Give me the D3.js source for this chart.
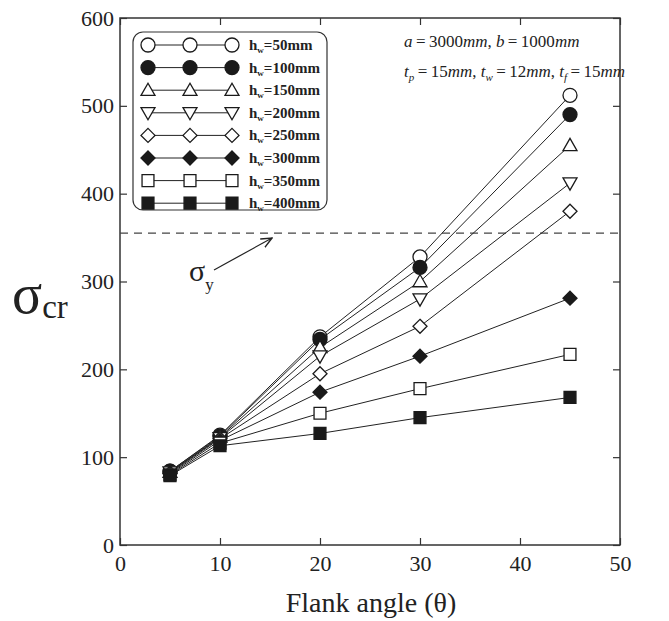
<!doctype html>
<html>
<head>
<meta charset="utf-8">
<title>Flank angle vs critical stress</title>
<script src="https://d3js.org/d3.v7.min.js"></script>
<style type="text/css">
	body { margin: 0; background: #fff; }
	text { font-family: "Liberation Serif", "DejaVu Serif", serif; fill: #222; }
	.tick text { font-size: 22px; font-family: "Liberation Serif", serif; }
	.legText { font-size: 15px; font-weight: bold; }
	.note { font-size: 17px; }
</style>
</head>
<body>
<script>
	var w = 669;
	var h = 621;

	// data
	var angles = [5, 10, 20, 30, 45];
	var names = ["50", "100", "150", "200", "250", "300", "350", "400"];
	var shapes = ["circle", "circle", "triUp", "triDown", "diamond", "diamond", "square", "square"];
	var filled = [false, true, false, false, false, true, false, true];
	var hw50  = [84, 125, 237, 328, 512];
	var hw100 = [84, 124, 234, 316, 490];
	var hw150 = [83, 123, 225, 300, 455];
	var hw200 = [83, 122, 215, 280, 412];
	var hw250 = [82, 121, 195, 249, 380];
	var hw300 = [81, 119, 174, 215, 281];
	var hw350 = [80, 116, 150, 178, 217];
	var hw400 = [79, 113, 127, 145, 168];
	var series = [hw50, hw100, hw150, hw200, hw250, hw300, hw350, hw400];
	var sigmaY = 355;
	var xTicks = [0, 10, 20, 30, 40, 50];
	var yTicks = [0, 100, 200, 300, 400, 500, 600];

	var svg = d3.select("body").append("svg")
				.attr("width", w)
				.attr("height", h);

	var xScale = d3.scaleLinear().domain([0, 50]).range([120, 620]);
	var yScale = d3.scaleLinear().domain([0, 600]).range([545, 18]);

	function markerPath(shape, s) {
		var p = d3.path();
		if (shape == "circle") {
			p.moveTo(s, 0);
			p.arc(0, 0, s, 0, 2 * Math.PI);
		} else if (shape == "triUp") {
			p.moveTo(0, -s); p.lineTo(s, s * 0.75); p.lineTo(-s, s * 0.75); p.closePath();
		} else if (shape == "triDown") {
			p.moveTo(0, s); p.lineTo(s, -s * 0.75); p.lineTo(-s, -s * 0.75); p.closePath();
		} else if (shape == "diamond") {
			p.moveTo(0, -s); p.lineTo(s, 0); p.lineTo(0, s); p.lineTo(-s, 0); p.closePath();
		} else {
			p.rect(-s * 0.85, -s * 0.85, s * 1.7, s * 1.7);
		}
		return p.toString();
	}

	// frame
	svg.append("rect")
		.attr("x", 120).attr("y", 18)
		.attr("width", 500).attr("height", 527)
		.attr("fill", "none").attr("stroke", "#333").attr("stroke-width", 1.5);

	var xAxis = d3.axisBottom(xScale).tickValues(xTicks).tickSizeInner(-7).tickSizeOuter(0).tickPadding(10);
	var yAxis = d3.axisLeft(yScale).tickValues(yTicks).tickSizeInner(-7).tickSizeOuter(0).tickPadding(6);

	var gx = svg.append("g").attr("transform", "translate(0,545)").call(xAxis);
	var gy = svg.append("g").attr("transform", "translate(120,0)").call(yAxis);
	svg.append("g").attr("transform", "translate(0,18)")
		.call(d3.axisTop(xScale).tickValues(xTicks).tickSizeInner(-7).tickSizeOuter(0).tickFormat(""));
	svg.append("g").attr("transform", "translate(620,0)")
		.call(d3.axisRight(yScale).tickValues(yTicks).tickSizeInner(-7).tickSizeOuter(0).tickFormat(""));
	svg.selectAll(".domain").remove();
	svg.selectAll(".tick line").attr("stroke", "#333").attr("stroke-width", 1.2);
	svg.selectAll("g").attr("font-family", null);
	svg.selectAll(".tick text")
		.attr("fill", "#222")
		.attr("font-family", "Liberation Serif");

	// yield line
	svg.append("line")
		.attr("x1", 120).attr("x2", 620)
		.attr("y1", yScale(sigmaY)).attr("y2", yScale(sigmaY))
		.attr("stroke", "#444").attr("stroke-width", 1.2)
		.attr("stroke-dasharray", "8,6");

	var line = d3.line()
		.x(function(d, i) { return xScale(angles[i]); })
		.y(function(d) { return yScale(d); });

	svg.append("g").selectAll("path")
		.data(series)
		.enter()
		.append("path")
		.attr("d", line)
		.attr("fill", "none")
		.attr("stroke", "#222")
		.attr("stroke-width", 1);

	series.forEach(function(s, k) {
		svg.append("g").selectAll("path")
			.data(s)
			.enter()
			.append("path")
			.attr("transform", function(d, i) { return "translate(" + xScale(angles[i]) + "," + yScale(d) + ")"; })
			.attr("d", markerPath(shapes[k], 7))
			.attr("fill", filled[k] ? "#1a1a1a" : "#fff")
			.attr("stroke", "#1a1a1a")
			.attr("stroke-width", 1.3);
	});

	// legend
	var leg = svg.append("g");
	leg.append("rect")
		.attr("x", 133).attr("y", 32)
		.attr("width", 194).attr("height", 178)
		.attr("rx", 10)
		.attr("fill", "#fff").attr("stroke", "#333").attr("stroke-width", 1.2);

	names.forEach(function(n, k) {
		var yy = 45 + k * 22.6;
		leg.append("line")
			.attr("x1", 148).attr("x2", 232)
			.attr("y1", yy).attr("y2", yy)
			.attr("stroke", "#222");
		[148, 190, 232].forEach(function(xx) {
			leg.append("path")
				.attr("transform", "translate(" + xx + "," + yy + ")")
				.attr("d", markerPath(shapes[k], 7))
				.attr("fill", filled[k] ? "#1a1a1a" : "#fff")
				.attr("stroke", "#1a1a1a")
				.attr("stroke-width", 1.3);
		});
		var t = leg.append("text").attr("class", "legText")
			.attr("x", 249).attr("y", yy + 5);
		t.append("tspan").text("h");
		t.append("tspan").attr("font-size", "9px").attr("dy", 3).text("w");
		t.append("tspan").attr("dy", -3).text("=" + n + "mm");
	});

	// parameters note
	var eq = "\u2009=\u2009";
	var n1 = svg.append("text").attr("class", "note").attr("x", 404).attr("y", 47);
	n1.append("tspan").attr("font-style", "italic").text("a");
	n1.append("tspan").text(eq + "3000");
	n1.append("tspan").attr("font-style", "italic").text("mm");
	n1.append("tspan").text(", ");
	n1.append("tspan").attr("font-style", "italic").text("b");
	n1.append("tspan").text(eq + "1000");
	n1.append("tspan").attr("font-style", "italic").text("mm");

	var n2 = svg.append("text").attr("class", "note").attr("x", 404).attr("y", 77);
	[["p", "15"], ["w", "12"], ["f", "15"]].forEach(function(p, i) {
		n2.append("tspan").attr("font-style", "italic").text("t");
		n2.append("tspan").attr("font-style", "italic").attr("font-size", "11px").attr("dy", 4).text(p[0]);
		n2.append("tspan").attr("dy", -4).text(eq + p[1]);
		n2.append("tspan").attr("font-style", "italic").text("mm");
		if (i < 2) n2.append("tspan").text(", ");
	});

	// sigma_y pointer
	svg.append("defs").append("marker")
		.attr("id", "arr")
		.attr("viewBox", "0 0 10 10")
		.attr("refX", 9).attr("refY", 5)
		.attr("markerWidth", 10).attr("markerHeight", 10)
		.attr("orient", "auto")
		.append("path")
		.attr("d", "M0,1 L9,5 L0,9")
		.attr("fill", "none").attr("stroke", "#222").attr("stroke-width", 1.2);

	svg.append("line")
		.attr("x1", 214).attr("y1", 270)
		.attr("x2", 272).attr("y2", 238)
		.attr("stroke", "#222").attr("stroke-width", 1.2)
		.attr("marker-end", "url(#arr)");

	var sy = svg.append("text").attr("x", 189).attr("y", 281).attr("font-size", "30px");
	sy.append("tspan").text("σ");
	sy.append("tspan").attr("font-size", "17px").attr("dy", 9).text("y");

	// axis titles
	var yl = svg.append("text").attr("x", 12).attr("y", 313).attr("font-size", "56px");
	yl.append("tspan").text("σ");
	yl.append("tspan").attr("font-size", "33px").attr("dy", 5).text("cr");

	svg.append("text")
		.attr("x", 371).attr("y", 612)
		.attr("text-anchor", "middle")
		.attr("font-size", "28px")
		.text("Flank angle (θ)");
</script>
</body>
</html>
